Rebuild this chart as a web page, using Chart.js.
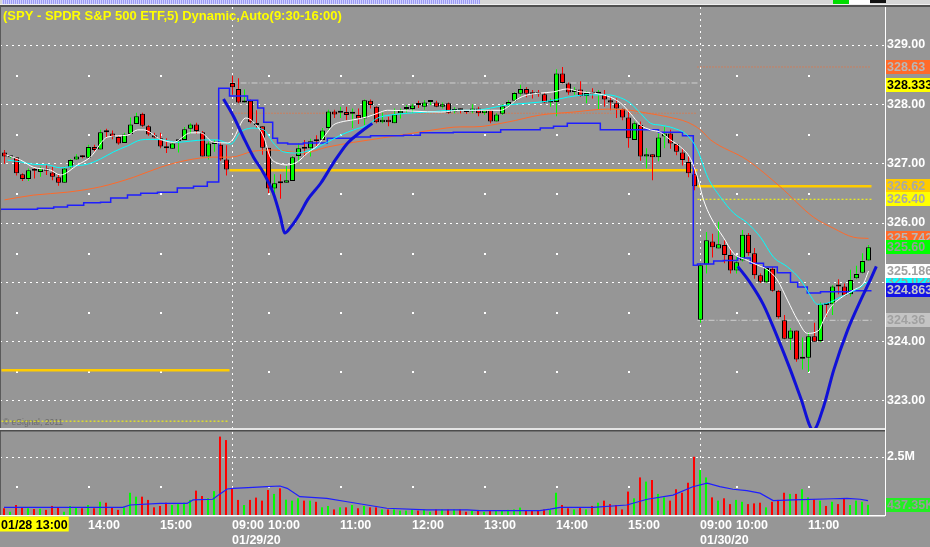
<!DOCTYPE html>
<html lang="en">
  <head>
    <meta charset="UTF-8" />
    <title>SPY 5 min - eSignal</title>
    <script src="https://cdn.jsdelivr.net/npm/chart.js"></script>
    <style>
      body {
        margin: 0;
        background-color: #969696;
      }
      #wrap {
        position: relative;
        width: 930px;
        height: 547px;
        overflow: hidden;
      }
      #priceChart {
        position: absolute;
        left: 0;
        top: 0;
      }
      #volumeChart {
        position: absolute;
        left: 0;
        top: 432px;
      }
    </style>
  </head>
  <body>
    <div id="wrap">
      <canvas id="priceChart" width="930" height="432"></canvas>
      <canvas id="volumeChart" width="930" height="115"></canvas>
    </div>

    <script>
      // Sessions shown on the chart
      const sessionDates = ["01/28/20", "01/29/20", "01/30/20"];
      const sessionStartTimes = ["12:50", "09:30", "09:30"];
      const sessionBarCounts = [38, 78, 29];

      // 5 minute bars (01/28 12:50 .. 01/30 11:50)
      const opens = [
        327.19, 327.11, 327.11, 326.82, 326.74, 326.89, 326.86, 326.92, 326.85, 326.77,
        326.68, 326.94, 327.07, 327.12, 327.10, 327.28, 327.24, 327.54, 327.51, 327.45,
        327.35, 327.50, 327.67, 327.84, 327.63, 327.48, 327.43, 327.27, 327.25, 327.38,
        327.40, 327.59, 327.66, 327.53, 327.12, 327.33, 327.32, 327.07,
        328.36, 328.26, 328.03, 328.06, 327.68, 327.63, 327.27, 326.58, 326.68, 326.68,
        326.71, 327.13, 327.26, 327.26, 327.39, 327.40, 327.60, 327.88, 327.86, 327.87,
        327.84, 327.82, 327.76, 328.06, 327.96, 327.70, 327.74, 327.68, 327.85, 327.92,
        327.92, 328.00, 327.96, 328.04, 328.03, 327.96, 328.02, 327.88, 327.91, 327.88,
        327.88, 327.93, 327.85, 327.90, 327.71, 327.84, 327.98, 328.06, 328.18, 328.26,
        328.18, 328.18, 328.17, 328.03, 328.04, 328.52, 328.35, 328.21, 328.25, 328.14,
        328.19, 328.18, 328.16, 328.07, 328.02, 327.92, 327.78, 327.40, 327.65, 327.12,
        327.16, 327.11, 327.46, 327.51, 327.33, 327.19, 327.03, 326.82,
        324.37, 325.30, 325.69, 325.57, 325.63, 325.46, 325.20, 325.37, 325.80, 325.49,
        325.12, 325.00, 325.23, 324.86, 324.36, 324.05, 324.19, 323.71, 323.73, 324.09,
        324.01, 324.63, 324.63, 324.94, 324.93, 324.80, 325.07, 325.16, 325.37
      ];
      const highs = [
        327.23, 327.13, 327.11, 326.84, 326.92, 326.93, 326.95, 326.98, 326.95, 326.81,
        326.95, 327.08, 327.16, 327.14, 327.32, 327.32, 327.57, 327.59, 327.56, 327.47,
        327.52, 327.78, 327.86, 327.86, 327.65, 327.52, 327.52, 327.43, 327.37, 327.40,
        327.62, 327.68, 327.69, 327.55, 327.37, 327.40, 327.35, 327.31,
        328.48, 328.44, 328.25, 328.08, 327.90, 327.63, 327.27, 326.82, 326.82, 326.96,
        327.13, 327.34, 327.40, 327.42, 327.48, 327.60, 327.91, 327.91, 327.96, 327.96,
        327.93, 327.93, 328.08, 328.08, 327.97, 327.86, 327.79, 327.93, 327.93, 327.99,
        328.01, 328.06, 328.07, 328.07, 328.06, 328.03, 328.03, 327.95, 327.93, 327.90,
        328.00, 327.96, 327.91, 327.91, 327.85, 328.00, 328.07, 328.21, 328.33, 328.29,
        328.24, 328.24, 328.19, 328.10, 328.59, 328.63, 328.37, 328.29, 328.39, 328.22,
        328.27, 328.24, 328.24, 328.12, 328.10, 327.93, 327.90, 327.71, 327.71, 327.26,
        327.16, 327.51, 327.62, 327.57, 327.35, 327.26, 327.12, 326.96,
        325.32, 325.85, 325.82, 326.02, 325.71, 325.57, 325.43, 325.88, 325.83, 325.58,
        325.15, 325.26, 325.26, 324.87, 324.45, 324.23, 324.19, 324.07, 324.16, 324.32,
        324.66, 324.63, 324.95, 325.05, 324.98, 325.21, 325.28, 325.49, 325.63
      ];
      const lows = [
        327.00, 327.09, 326.80, 326.71, 326.71, 326.75, 326.78, 326.81, 326.72, 326.63,
        326.68, 326.92, 327.06, 327.09, 327.09, 327.21, 327.24, 327.43, 327.41, 327.32,
        327.35, 327.50, 327.67, 327.62, 327.47, 327.43, 327.26, 327.18, 327.25, 327.19,
        327.40, 327.51, 327.50, 327.12, 327.07, 327.20, 327.05, 326.80,
        328.16, 328.02, 328.03, 327.68, 327.60, 327.15, 326.50, 326.47, 326.41, 326.68,
        326.71, 327.03, 327.12, 327.12, 327.29, 327.40, 327.57, 327.77, 327.77, 327.73,
        327.60, 327.67, 327.65, 327.93, 327.68, 327.68, 327.63, 327.68, 327.76, 327.86,
        327.86, 327.94, 327.91, 327.99, 327.95, 327.93, 327.84, 327.85, 327.85, 327.84,
        327.85, 327.80, 327.82, 327.68, 327.71, 327.82, 327.95, 328.04, 328.15, 328.12,
        328.10, 328.13, 328.02, 327.96, 327.80, 328.35, 328.16, 328.16, 328.13, 328.02,
        328.10, 327.91, 327.96, 327.90, 327.77, 327.73, 327.27, 327.40, 327.05, 326.92,
        326.72, 327.04, 327.26, 327.25, 327.14, 326.97, 326.77, 326.55,
        324.32, 325.15, 325.42, 325.57, 325.32, 325.15, 325.15, 325.35, 325.45, 325.06,
        324.99, 324.99, 324.84, 324.39, 324.04, 323.86, 323.66, 323.53, 323.49, 324.00,
        323.99, 324.42, 324.45, 324.80, 324.78, 324.76, 325.05, 325.15, 325.37
      ];
      const closes = [
        327.12, 327.11, 326.84, 326.74, 326.89, 326.88, 326.92, 326.88, 326.78, 326.68,
        326.92, 327.06, 327.12, 327.11, 327.28, 327.23, 327.53, 327.53, 327.45, 327.34,
        327.49, 327.66, 327.80, 327.64, 327.49, 327.44, 327.29, 327.26, 327.34, 327.38,
        327.58, 327.66, 327.55, 327.12, 327.34, 327.33, 327.07, 326.90,
        328.29, 328.03, 328.06, 327.70, 327.65, 327.27, 326.58, 326.67, 326.67, 326.72,
        327.11, 327.26, 327.25, 327.38, 327.38, 327.56, 327.88, 327.83, 327.86, 327.82,
        327.84, 327.76, 328.07, 327.99, 327.70, 327.74, 327.70, 327.83, 327.89, 327.92,
        327.98, 327.99, 328.03, 328.04, 327.96, 328.00, 327.86, 327.92, 327.90, 327.87,
        327.93, 327.85, 327.90, 327.71, 327.83, 327.97, 328.04, 328.19, 328.26, 328.18,
        328.17, 328.17, 328.03, 328.03, 328.52, 328.36, 328.20, 328.25, 328.14, 328.19,
        328.18, 328.19, 328.08, 328.03, 327.93, 327.78, 327.43, 327.68, 327.12, 327.16,
        327.11, 327.44, 327.51, 327.34, 327.20, 327.06, 326.84, 326.62,
        325.29, 325.71, 325.59, 325.64, 325.46, 325.20, 325.34, 325.80, 325.49, 325.12,
        325.01, 325.24, 324.86, 324.41, 324.05, 324.19, 323.70, 323.72, 324.09, 324.00,
        324.63, 324.62, 324.93, 324.93, 324.78, 325.04, 325.14, 325.36, 325.59
      ];
      // volume in millions of shares
      const volumes = [
        0.29, 0.14, 0.43, 0.32, 0.29, 0.26, 0.27, 0.22, 0.39, 0.33,
        0.14, 0.39, 0.33, 0.29, 0.43, 0.29, 0.57, 0.53, 0.33, 0.22,
        0.33, 0.96, 0.79, 0.79, 0.65, 0.33, 0.39, 0.53, 0.43, 0.47,
        0.53, 0.65, 1.05, 0.82, 0.72, 1.03, 3.38, 3.23,
        1.15, 0.65, 0.43, 0.65, 0.75, 0.62, 1.08, 0.91, 1.15, 0.66,
        0.62, 0.72, 0.62, 0.62, 0.57, 0.33, 0.39, 0.24, 0.33, 0.33,
        0.43, 0.29, 0.39, 0.33, 0.33, 0.24, 0.24, 0.24, 0.19, 0.19,
        0.24, 0.19, 0.24, 0.14, 0.24, 0.24, 0.24, 0.24, 0.24, 0.14,
        0.19, 0.19, 0.14, 0.19, 0.19, 0.19, 0.22, 0.24, 0.32, 0.19,
        0.19, 0.19, 0.24, 0.24, 0.96, 0.43, 0.29, 0.24, 0.33, 0.24,
        0.39, 0.53, 0.62, 0.47, 0.43, 0.24, 1.01, 0.72, 1.62, 1.44,
        1.51, 0.91, 0.76, 0.62, 1.11, 0.96, 1.39, 2.51,
        1.94, 1.62, 0.76, 0.62, 0.72, 0.47, 0.65, 0.57, 0.47, 0.50,
        0.53, 0.33, 0.57, 0.65, 0.96, 0.91, 0.91, 1.11, 0.76, 0.67,
        0.62, 0.39, 0.57, 0.47, 0.72, 0.43, 0.62, 0.57, 0.44
      ];

      // Study lines as [bar, value]
      const whiteAverage = [
        [0.2, 327.15], [2.7, 327.06], [4.8, 326.94], [7.7, 326.89], [9.3, 326.81], [12.2, 326.98],
        [14.3, 327.11], [17.2, 327.45], [20.5, 327.48], [22.2, 327.57], [23.2, 327.57], [26, 327.41],
        [28.2, 327.36], [31, 327.52], [32.7, 327.52], [34.8, 327.36], [37.2, 327.35], [38, 327.4],
        [40.2, 327.77], [41.5, 327.7], [43.2, 327.45], [44.3, 327.11], [45.5, 327.01], [47.2, 326.98],
        [48.8, 327.03], [50.5, 327.18], [52.2, 327.31], [53.8, 327.53], [54.8, 327.65], [56, 327.7],
        [58.2, 327.74], [60.5, 327.79], [62.2, 327.85], [63.8, 327.9], [72.7, 327.87], [76, 327.9],
        [82.7, 327.9], [83.8, 327.95], [85.5, 328.09], [87.2, 328.16], [89.3, 328.19], [91.5, 328.21],
        [93.8, 328.26], [96, 328.21], [98.2, 328.19], [101, 328.12], [102.7, 328.02], [104.3, 327.85],
        [106, 327.65], [107.7, 327.57], [109.3, 327.53], [111, 327.4], [112.7, 327.28], [114.3, 327.09],
        [115.5, 326.77], [116.5, 326.39], [117.7, 326.1], [119.8, 325.76], [121.5, 325.49],
        [123.8, 325.37], [125.5, 325.29], [127.2, 325.21], [128.8, 325.04], [130.5, 324.7],
        [132.2, 324.36], [133.8, 324.14], [135.7, 324.19], [136.5, 324.36], [137.7, 324.58],
        [139.3, 324.73], [141.5, 324.87], [143.2, 324.99], [144, 325.19]
      ];
      const cyanAverage = [
        [0.5, 327.06], [2.7, 327.03], [4.8, 326.99], [7.2, 326.98], [9.3, 326.93], [11.5, 326.96],
        [13.8, 326.99], [16, 327.08], [18.2, 327.2], [20.5, 327.3], [22.7, 327.4], [24.3, 327.41],
        [26.5, 327.4], [28.8, 327.36], [31, 327.38], [33.2, 327.4], [35.5, 327.4], [37.7, 327.33],
        [39.3, 327.53], [41.5, 327.6], [43.2, 327.57], [44.8, 327.35], [46.5, 327.2], [48.8, 327.18],
        [51, 327.23], [53.8, 327.36], [56, 327.48], [58.2, 327.57], [60.5, 327.65], [62.2, 327.77],
        [64.3, 327.82], [67.2, 327.85], [70.5, 327.87], [74.8, 327.9], [78.2, 327.9], [83.8, 327.99],
        [87.2, 328.02], [91, 328.06], [93.8, 328.12], [97.2, 328.16], [100.5, 328.16], [102.7, 328.11],
        [104.3, 328.02], [106, 327.85], [107.7, 327.68], [109.3, 327.65], [111.5, 327.6],
        [113.8, 327.48], [115.5, 327.23], [117.2, 326.77], [119.3, 326.44], [121.5, 326.17],
        [123.8, 326.0], [126, 325.76], [128.2, 325.42], [130.5, 325.26], [132.7, 325.04],
        [134.3, 324.78], [135.5, 324.63], [137.2, 324.65], [139.3, 324.75], [141, 324.83],
        [142.7, 324.92], [144, 325.02]
      ];
      const orangeAverage = [
        [0, 326.39], [4.8, 326.47], [10.5, 326.52], [16, 326.61], [21.5, 326.77], [26, 326.94],
        [30.5, 327.06], [34.8, 327.11], [37.7, 327.11], [41.5, 327.21], [44.8, 327.23], [49.8, 327.18],
        [53.8, 327.28], [58.2, 327.36], [62.7, 327.43], [67.2, 327.5], [71.5, 327.57], [76, 327.62],
        [78.2, 327.62], [83.8, 327.7], [89.3, 327.82], [94.8, 327.87], [100.5, 327.92], [104.3, 327.9],
        [107.2, 327.85], [110.5, 327.79], [113.8, 327.7], [116, 327.57], [117.7, 327.4],
        [123.8, 327.06], [129.3, 326.61], [134.8, 326.1], [138.2, 325.91], [141.5, 325.76], [144, 325.74]
      ];
      const blueStep = [
        [-0.7, 326.18], [5.5, 326.23], [8.2, 326.25], [10.5, 326.27], [13.2, 326.3], [16, 326.34],
        [17.7, 326.35], [20.5, 326.42], [22.7, 326.47], [25.5, 326.5], [28.8, 326.52], [31.5, 326.59],
        [33.8, 326.62], [35.7, 326.69], [37.5, 328.27], [40.5, 328.14], [42.2, 328.07], [43.2, 327.94],
        [44.7, 327.7], [45.5, 327.43], [47.2, 327.35], [49.8, 327.33], [53.8, 327.35], [58.2, 327.43],
        [61, 327.45], [66.5, 327.47], [69.3, 327.48], [74.8, 327.52], [82.7, 327.53], [89.3, 327.57],
        [91.5, 327.6], [93.8, 327.63], [99.3, 327.68], [109, 327.57], [113, 327.53], [114.8, 327.47],
        [115.5, 325.29], [118.2, 325.31], [119.8, 325.36], [122.2, 325.37], [124.3, 325.41],
        [126.5, 325.32], [128.8, 325.26], [131, 325.16], [132.2, 325.0], [133.8, 324.92],
        [136, 324.82], [141, 324.84], [144.5, 324.86]
      ];
      const blueCurveJan29 = [
        [36.5, 328.09], [38.2, 327.79], [39.8, 327.45], [41.5, 327.11], [43.2, 326.84], [44.8, 326.5],
        [46, 326.1], [46.7, 325.83], [47.7, 325.93], [49.3, 326.17], [50.5, 326.39], [52.7, 326.67],
        [54.8, 327.01], [57.2, 327.35], [59.3, 327.53], [61.3, 327.68]
      ];
      const blueCurveJan30 = [
        [122.2, 325.27], [124.3, 324.99], [126.5, 324.62], [128.8, 324.08], [131, 323.52],
        [132.7, 323.05], [134.8, 322.51], [136.5, 322.9], [138.2, 323.52], [140.5, 324.19],
        [142.7, 324.7], [144.3, 325.04], [145.3, 325.27]
      ];
      const volumeAverage = [
        [0, 0.33], [19.8, 0.33], [21, 0.43], [26, 0.5], [30.5, 0.5], [31.5, 0.65], [34.8, 0.68],
        [36, 0.91], [37.2, 1.12], [38.2, 1.15], [41.5, 1.19], [43.8, 1.22], [46, 1.25], [47.2, 1.15],
        [49.3, 0.79], [53.8, 0.72], [57.2, 0.57], [60.5, 0.43], [63.8, 0.29], [70.5, 0.22],
        [77.2, 0.22], [79.3, 0.19], [89.3, 0.19], [91, 0.25], [92.7, 0.33], [98.2, 0.33],
        [103.8, 0.43], [107.2, 0.68], [111.5, 0.86], [114.8, 1.22], [117.2, 1.37], [119.3, 1.22],
        [121.5, 1.11], [123.8, 1.05], [126, 0.94], [128.2, 0.62], [131.5, 0.65], [138.2, 0.7],
        [140.5, 0.72], [142.7, 0.68], [144, 0.62]
      ];

      // Prior-day / session levels, one entry per session
      const priorClose = [323.52, 326.89, 326.62];
      const priorLow = [322.66, null, 326.4];
      const priorHigh = [null, 327.85, 328.63];
      const sessionOpen = [null, 328.36, 324.36];

      const priceTicks = [323, 324, 325, 326, 327, 328, 329];
      const volumeTicks = [2.5];
      const priceTags = ["328.63", "328.333", "326.62", "326.40", "325.742", "325.60", "325.024", "325.186", "324.863", "324.36"];
      const volumeTags = ["437.35K"];
      const chartTitle = "(SPY - SPDR S&P 500 ETF,5) Dynamic,Auto(9:30-16:00)";
      const copyrightText = "\u00a9 eSignal, 2011";

      // ---- look ----
      const FONT = '"Liberation Sans", Arial, sans-serif';
      const BG = "#969696";
      const UP = "#00ff00";
      const DOWN = "#ff0000";
      const tagFills = ["#ff6a2a", "#ffff00", "#ffcc00", "#ffff00", "#ff6a2a", "#00ff00", "#00ffff", "#ffffff", "#1414e6", "#c4c4c4"];
      const tagInks = ["#b8b8b8", "#000000", "#a8a8a8", "#a8a8a8", "#b8b8b8", "#9a9a9a", "#9a9a9a", "#a0a0a0", "#c8c8c8", "#a0a0a0"];

      Chart.defaults.font.family = FONT;
      Chart.defaults.elements.point.radius = 0;

      // ---- derived helpers ----
      const sessionFirstBar = sessionBarCounts.map((n, s) =>
        sessionBarCounts.slice(0, s).reduce((a, b) => a + b, 0)
      );
      const bars = opens.map((_, i) => i);
      const barMinutes = [];
      const barSession = [];
      sessionBarCounts.forEach((n, s) => {
        const [h, m] = sessionStartTimes[s].split(":").map(Number);
        for (let k = 0; k < n; k++) {
          barMinutes.push(h * 60 + m + 5 * k);
          barSession.push(s);
        }
      });
      const pad2 = (n) => String(n).padStart(2, "0");
      const timeTicks = [];
      bars.forEach((i) => {
        const t = barMinutes[i];
        const s = barSession[i];
        const start = i > 0 && sessionFirstBar[s] === i;
        if (start || t % 60 === 0) {
          timeTicks.push({
            bar: i,
            text: pad2(Math.floor(t / 60)) + ":00",
            date: start ? sessionDates[s] : null,
            start: start,
          });
        }
      });
      timeTicks[0].text = sessionDates[0].slice(0, 5) + " " + timeTicks[0].text;

      const candleColor = (i) => (closes[i] >= opens[i] ? UP : DOWN);
      const toPoints = (pairs) => pairs.map(([x, y]) => ({ x: x, y: y }));

      // right axis: fixed width, no extra room for the end labels
      function fixAxis(s) {
        s.width = 45;
        s.paddingTop = 0;
        s.paddingBottom = 0;
      }

      function levelLines(values, color, width, dash) {
        const out = [];
        values.forEach((v, s) => {
          if (v == null) return;
          const a = sessionFirstBar[s] - 0.5;
          const b = a + sessionBarCounts[s];
          out.push({
            type: "line",
            data: [{ x: a, y: v }, { x: b, y: v }],
            borderColor: color,
            borderWidth: width,
            borderDash: dash,
            order: 20,
          });
        });
        return out;
      }

      function studyLine(pairs, color, width, extra) {
        return Object.assign(
          {
            type: "line",
            data: toPoints(pairs),
            borderColor: color,
            borderWidth: width,
            cubicInterpolationMode: "monotone",
          },
          extra || {}
        );
      }

      // ---- price panel ----
      const pricePanel = {
        id: "pricePanel",
        beforeDraw(chart) {
          const { ctx, width, height } = chart;
          ctx.save();
          ctx.fillStyle = BG;
          ctx.fillRect(0, 0, width, height);
          ctx.restore();
        },
        beforeDatasetsDraw(chart) {
          const { ctx, chartArea: area } = chart;
          const x = chart.scales.x;
          const y = chart.scales.y;
          ctx.save();
          // sparse hour dots at half-dollar levels
          ctx.fillStyle = "#ffffff";
          timeTicks.forEach((t) => {
            if (t.start) return;
            const px = Math.floor(x.getPixelForValue(t.bar));
            priceTicks.slice(0, -1).forEach((v) => {
              ctx.fillRect(px, Math.round(y.getPixelForValue(v + 0.5)), 2, 2);
            });
          });
          // session dividers
          ctx.strokeStyle = "#ffffff";
          ctx.lineWidth = 1;
          ctx.setLineDash([2, 4]);
          sessionFirstBar.slice(1).forEach((b) => {
            const px = Math.floor(x.getPixelForValue(b)) + 0.5;
            ctx.beginPath();
            ctx.moveTo(px, 7);
            ctx.lineTo(px, area.bottom);
            ctx.stroke();
          });
          ctx.setLineDash([]);
          // copyright
          ctx.fillStyle = "#6c6c6c";
          ctx.font = "8.5px " + FONT;
          ctx.textBaseline = "alphabetic";
          ctx.fillText(copyrightText, 3, 425);
          ctx.restore();
        },
        afterDraw(chart) {
          const { ctx, chartArea: area } = chart;
          const y = chart.scales.y;
          ctx.save();
          // top strip
          ctx.fillStyle = "#d6d6d6";
          ctx.fillRect(0, 0, chart.width, 5);
          for (let px = 2; px < 480; px++) {
            ctx.fillStyle = px % 2 ? "#9c9cf4" : "#d0d0ff";
            ctx.fillRect(px, 0, 1, 4);
          }
          ctx.fillStyle = "#00dd00";
          ctx.fillRect(833, 0, 16, 4);
          ctx.fillStyle = "#ffffff";
          ctx.fillRect(849, 0, 21, 4);
          ctx.fillStyle = "#111111";
          ctx.fillRect(870, 0, 16, 3);
          ctx.fillStyle = "#f0f0f0";
          ctx.fillRect(0, 4, chart.width, 1);
          ctx.fillStyle = "#505050";
          ctx.fillRect(0, 5, chart.width, 2);
          // left edge and right separator
          ctx.fillStyle = "#5a5a5a";
          ctx.fillRect(0, 7, 1, chart.height - 7);
          ctx.fillStyle = "#ffffff";
          ctx.fillRect(area.right, 7, 1, chart.height - 7);
          // panel separator
          ctx.fillStyle = "#e4e4e4";
          ctx.fillRect(0, 428, area.right, 2);
          ctx.fillStyle = "#4c4c4c";
          ctx.fillRect(0, 430, area.right, 1.5);
          // title
          ctx.fillStyle = "#ffff00";
          ctx.font = "bold 13px " + FONT;
          ctx.textBaseline = "alphabetic";
          ctx.fillText(chartTitle, 3, 19.5);
          // last-value tags
          ctx.font = "bold 12.5px " + FONT;
          ctx.textBaseline = "middle";
          priceTags.forEach((txt, k) => {
            const py = Math.round(y.getPixelForValue(parseFloat(txt)));
            ctx.fillStyle = tagFills[k];
            ctx.fillRect(area.right + 1, py - 7, chart.width - area.right, 14);
            ctx.fillStyle = tagInks[k];
            ctx.fillText(txt, area.right + 2, py + 0.5);
          });
          ctx.restore();
        },
      };

      const priceDatasets = [].concat(
        levelLines(priorClose, "#ffcc00", 2.5, []),
        levelLines(priorLow, "#ffff00", 1, [2, 2]),
        levelLines(priorHigh, "#ff6a2a", 1, [1, 2]),
        levelLines(sessionOpen, "#cfcfcf", 1, [6, 2, 1, 2]),
        [
          {
            type: "bar",
            data: bars.map((i) => ({ x: i, y: [lows[i], highs[i]] })),
            backgroundColor: bars.map(candleColor),
            barThickness: 1,
            grouped: false,
            inflateAmount: 0,
            order: 12,
          },
          {
            type: "bar",
            data: bars.map((i) => ({ x: i, y: [opens[i], closes[i]] })),
            backgroundColor: bars.map(candleColor),
            borderColor: "#000000",
            borderWidth: 1,
            borderSkipped: false,
            barThickness: 5,
            minBarLength: 2,
            grouped: false,
            inflateAmount: 0,
            order: 11,
          },
          studyLine(orangeAverage, "#ff6a2a", 1, { order: 6 }),
          studyLine(blueStep, "#1e1eff", 1.5, { order: 5, stepped: "after", cubicInterpolationMode: "default" }),
          studyLine(cyanAverage, "#00ffff", 1, { order: 4 }),
          studyLine(whiteAverage, "#ffffff", 1, { order: 3 }),
          studyLine(blueCurveJan29, "#1010d8", 3, { order: 2 }),
          studyLine(blueCurveJan30, "#1010d8", 3, { order: 2 }),
        ]
      );

      new Chart(document.getElementById("priceChart"), {
        type: "bar",
        data: { datasets: priceDatasets },
        options: {
          responsive: false,
          animation: false,
          devicePixelRatio: 1,
          layout: { padding: { top: 8, bottom: 2, left: 0, right: 0 } },
          plugins: { legend: { display: false }, tooltip: { enabled: false } },
          scales: {
            x: {
              type: "linear",
              display: false,
              offset: false,
              min: -0.75,
              max: 146.75,
              grid: { display: false },
            },
            y: {
              position: "right",
              min: 322.511,
              max: 329.624,
              afterFit: fixAxis,
              afterBuildTicks: (s) => {
                s.ticks = priceTicks.map((v) => ({ value: v }));
              },
              ticks: {
                color: "#ffffff",
                padding: 2,
                font: { size: 12.5, weight: "bold" },
                callback: (v) => Number(v).toFixed(2),
              },
              grid: { color: "#ffffff", lineWidth: 1, drawTicks: false },
              border: { display: false, dash: [2, 4] },
            },
          },
        },
        plugins: [pricePanel],
      });

      // ---- volume panel ----
      const volumePanel = {
        id: "volumePanel",
        beforeDraw(chart) {
          const { ctx, width, height } = chart;
          ctx.save();
          ctx.fillStyle = BG;
          ctx.fillRect(0, 0, width, height);
          ctx.restore();
        },
        beforeDatasetsDraw(chart) {
          const { ctx, chartArea: area } = chart;
          const x = chart.scales.x;
          const y = chart.scales.y;
          ctx.save();
          ctx.fillStyle = "#ffffff";
          timeTicks.forEach((t) => {
            if (t.start) return;
            const px = Math.floor(x.getPixelForValue(t.bar));
            ctx.fillRect(px, Math.round(y.getPixelForValue(volumeTicks[0] / 2)), 2, 2);
          });
          ctx.strokeStyle = "#ffffff";
          ctx.lineWidth = 1;
          ctx.setLineDash([2, 4]);
          sessionFirstBar.slice(1).forEach((b) => {
            const px = Math.floor(x.getPixelForValue(b)) + 0.5;
            ctx.beginPath();
            ctx.moveTo(px, 0);
            ctx.lineTo(px, area.bottom);
            ctx.stroke();
          });
          ctx.restore();
        },
        afterDraw(chart) {
          const { ctx, chartArea: area } = chart;
          const x = chart.scales.x;
          const y = chart.scales.y;
          ctx.save();
          ctx.fillStyle = "#5a5a5a";
          ctx.fillRect(0, 0, 1, area.bottom);
          ctx.fillStyle = "#ffffff";
          ctx.fillRect(area.right, 0, 1, area.bottom + 1);
          ctx.fillRect(0, area.bottom, area.right, 1.5);
          // time axis
          ctx.font = "bold 12.5px " + FONT;
          ctx.textBaseline = "alphabetic";
          timeTicks.forEach((t, k) => {
            const px = Math.round(x.getPixelForValue(t.bar));
            if (k === 0) {
              const w = ctx.measureText(t.text).width;
              ctx.fillStyle = "#ffff00";
              ctx.fillRect(0, area.bottom + 1.5, w + 2, 15);
              ctx.fillStyle = "#000000";
              ctx.fillText(t.text, 1, area.bottom + 13.5);
              return;
            }
            ctx.fillStyle = "#ffffff";
            ctx.fillText(t.text, px, area.bottom + 13.5);
            if (t.date) ctx.fillText(t.date, px, area.bottom + 29);
          });
          // last volume tag
          ctx.textBaseline = "middle";
          volumeTags.forEach((txt) => {
            const v = parseFloat(txt) / 1000;
            const py = Math.round(y.getPixelForValue(v));
            ctx.fillStyle = "#22ee22";
            ctx.fillRect(area.right + 1, py - 7, chart.width - area.right, 14);
            ctx.fillStyle = "#9a9a9a";
            ctx.fillText(txt, area.right + 2, py + 0.5);
          });
          ctx.restore();
        },
      };

      new Chart(document.getElementById("volumeChart"), {
        type: "bar",
        data: {
          datasets: [
            {
              type: "bar",
              data: bars.map((i) => ({ x: i, y: volumes[i] })),
              backgroundColor: bars.map(candleColor),
              barThickness: 2,
              grouped: false,
              inflateAmount: 0,
              order: 2,
            },
            studyLine(volumeAverage, "#1e1eff", 1.2, { order: 1, cubicInterpolationMode: "default" }),
          ],
        },
        options: {
          responsive: false,
          animation: false,
          devicePixelRatio: 1,
          layout: { padding: { top: 0, bottom: 32, left: 0, right: 0 } },
          plugins: { legend: { display: false }, tooltip: { enabled: false } },
          scales: {
            x: {
              type: "linear",
              display: false,
              offset: false,
              min: -2 / 3,
              max: 146.8333,
              grid: { display: false },
            },
            y: {
              position: "right",
              min: 0,
              max: 3.578,
              afterFit: fixAxis,
              afterBuildTicks: (s) => {
                s.ticks = volumeTicks.map((v) => ({ value: v }));
              },
              ticks: {
                color: "#ffffff",
                padding: 2,
                font: { size: 12.5, weight: "bold" },
                callback: (v) => v + "M",
              },
              grid: { color: "#ffffff", lineWidth: 1, drawTicks: false },
              border: { display: false, dash: [2, 4] },
            },
          },
        },
        plugins: [volumePanel],
      });
    </script>
  </body>
</html>
